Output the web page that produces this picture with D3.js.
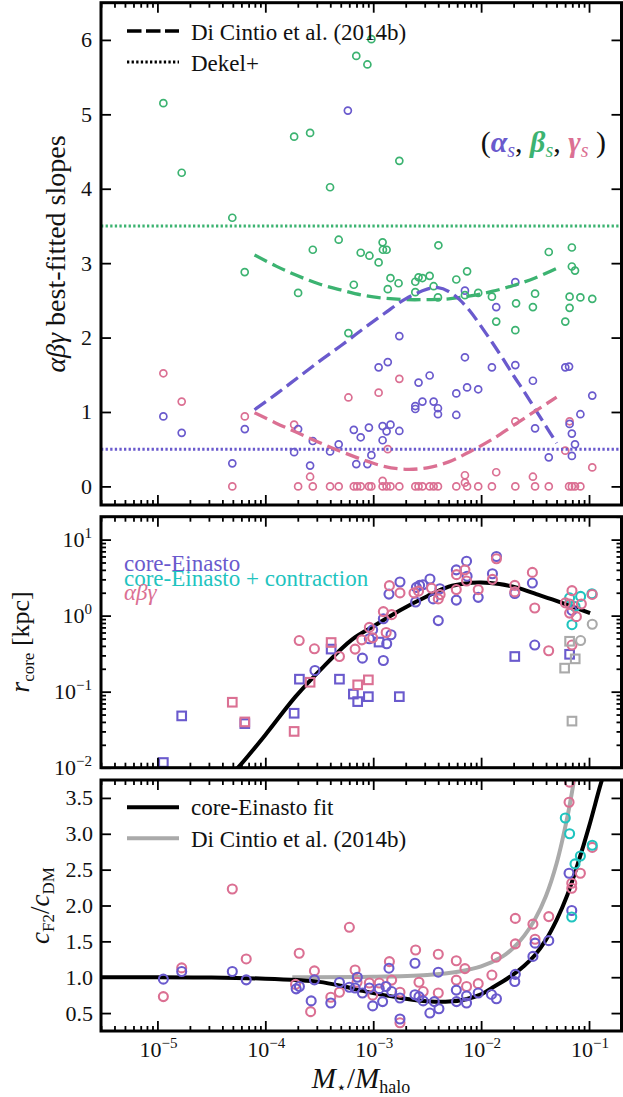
<!DOCTYPE html>
<html>
<head>
<meta charset="utf-8">
<script src="https://cdn.jsdelivr.net/npm/d3@7"></script>
<style>
  body { margin: 0; background: #fff; }
  text { font-family: "Liberation Serif", "Times New Roman", serif; fill: #111; }
</style>
</head>
<body>
<div id="chart"></div>
<script>
// values, x given as log10(M*/Mhalo)

// ---- panel 1: alpha, beta, gamma slopes
var alphaS = [[-4.945,0.94],[-4.775,0.72],[-4.306,0.31],[-4.19,0.77],[-3.733,0.46],[-3.696,0.77],[-3.56,0.61],[-3.585,0.28],
  [-3.40,0.47],[-3.32,0.565],[-3.18,0.76],[-3.116,0.66],[-3.157,0.30],[-3.04,0.79],[-3.054,0.30],[-3.017,0.42],[-2.95,1.60],
  [-2.913,0.81],[-2.876,0.74],[-2.913,0.62],[-2.84,0.83],[-2.865,1.67],[-2.758,0.745],[-2.758,2.02],[-2.61,1.08],[-2.61,1.04],
  [-2.58,1.395],[-2.544,1.14],[-2.477,1.49],[-2.44,1.14],[-2.40,1.05],[-2.40,0.97],[-2.23,1.25],[-2.23,0.96],[-2.15,1.735],
  [-2.15,2.63],[-2.13,1.33],[-2.027,1.305],[-1.90,1.60],[-1.86,2.41],[-1.683,2.745],[-1.683,1.63],[-1.52,1.42],[-1.50,0.78],
  [-1.373,0.39],[-1.22,1.60],[-1.185,1.61],[-1.18,0.84],[-1.159,0.71],[-1.159,0.41],[-1.13,0.565],[-1.08,0.97],[-0.97,1.22],
  [-3.235,5.05]];
var betaS = [[-4.945,5.15],[-4.775,4.215],[-4.306,3.61],[-3.733,4.70],[-3.585,4.75],[-3.40,4.02],[-3.157,5.785],[-3.054,5.67],
  [-3.017,6.01],[-2.758,4.375],[-3.32,3.315],[-3.56,3.18],[-3.116,3.14],[-3.035,3.10],[-2.913,3.28],[-2.91,3.18],[-2.876,3.18],
  [-2.95,3.01],[-2.396,3.24],[-1.373,3.15],[-1.159,3.21],[-4.191,2.88],[-3.696,2.60],[-3.18,2.71],[-3.23,2.06],[-2.84,2.80],
  [-2.865,2.65],[-2.765,2.73],[-2.61,2.75],[-2.58,2.81],[-2.544,2.80],[-2.477,2.83],[-2.61,2.61],[-2.44,2.69],[-2.40,2.54],
  [-2.23,2.78],[-2.13,2.89],[-2.15,2.57],[-2.027,2.60],[-1.90,2.55],[-1.86,2.215],[-1.676,2.46],[-1.683,2.10],[-1.52,2.41],
  [-1.50,2.59],[-1.159,2.955],[-1.13,2.90],[-1.18,2.55],[-1.18,2.40],[-1.22,2.215],[-1.08,2.54],[-0.97,2.52]];
var gammaS = [[-4.945,1.52],[-4.775,1.14],[-4.306,0],[-4.19,0.94],[-3.733,0.83],[-3.696,0],[-3.585,0.13],[-3.56,0],[-3.40,0],
  [-3.32,0],[-3.23,1.195],[-3.18,0],[-3.15,0],[-3.116,0],[-3.04,0],[-3.017,0],[-2.95,1.26],[-2.913,0.075],[-2.913,0],[-2.876,0],
  [-2.84,0],[-2.758,0],[-2.865,0.50],[-2.758,1.445],[-2.61,0],[-2.58,0],[-2.544,0],[-2.477,0],[-2.44,0],[-2.40,0],[-2.23,0],
  [-2.15,0.15],[-2.15,0.05],[-2.13,0],[-2.027,0],[-1.90,0],[-1.86,0.19],[-1.683,0.875],[-1.683,0],[-1.52,0.13],[-1.50,0],
  [-1.373,0],[-1.22,0.48],[-1.18,0.875],[-1.185,0],[-1.159,0],[-1.13,0],[-1.08,0],[-0.97,0.255]];
var alphaDC14 = [[-4.1,1.03],[-3.9,1.24],[-3.7,1.46],[-3.5,1.68],[-3.3,1.89],[-3.1,2.11],[-2.9,2.32],[-2.7,2.52],[-2.5,2.65],
  [-2.4,2.67],[-2.3,2.62],[-2.2,2.51],[-2.1,2.35],[-2.0,2.15],[-1.9,1.94],[-1.8,1.72],[-1.7,1.49],[-1.6,1.27],[-1.5,1.04],
  [-1.4,0.81],[-1.3,0.58]];
var betaDC14 = [[-4.1,3.11],[-3.9,2.96],[-3.7,2.83],[-3.5,2.72],[-3.3,2.64],[-3.1,2.57],[-2.9,2.53],[-2.7,2.51],[-2.5,2.51],
  [-2.3,2.52],[-2.1,2.56],[-1.9,2.62],[-1.7,2.70],[-1.5,2.80],[-1.3,2.93]];
var gammaDC14 = [[-4.1,0.99],[-3.9,0.85],[-3.7,0.72],[-3.5,0.59],[-3.3,0.47],[-3.1,0.36],[-2.9,0.27],[-2.7,0.23],[-2.5,0.25],
  [-2.3,0.33],[-2.1,0.47],[-1.9,0.63],[-1.7,0.82],[-1.5,1.01],[-1.3,1.20]];
var dekelBeta = 3.5, dekelAlpha = 0.5;

// ---- panel 2: core radius [kpc]
var rEinCirc = [[-3.54,0.19],[-3.1,0.276],[-3.036,0.497],[-3.005,0.65],[-2.906,0.257],[-2.875,0.427],[-2.835,0.56],[-2.906,0.91],
  [-2.854,1.92],[-2.752,2.77],[-2.607,1.51],[-2.6,2.35],[-2.57,2.5],[-2.54,2.55],[-2.474,3.03],[-2.444,1.66],[-2.397,0.86],
  [-2.382,2.26],[-2.23,4.0],[-2.23,1.6],[-2.135,5.2],[-2.13,3.3],[-2.027,1.74],[-1.895,3.55],[-1.858,6.0],[-1.688,1.95],
  [-1.525,2.68],[-1.503,0.41],[-1.158,1.17]];
var rEinSq = [[-4.945,0.0117],[-4.775,0.048],[-4.19,0.038],[-3.733,0.052],[-3.684,0.146],[-3.39,0.363],[-3.313,0.146],
  [-3.184,0.093],[-3.144,0.074],[-3.045,0.086],[-2.946,0.449],[-2.758,0.086],[-1.688,0.29],[-1.18,0.31]];
var rAbgCirc = [[-3.686,0.47],[-3.545,0.366],[-3.313,0.29],[-3.168,0.363],[-3.106,0.48],[-3.036,0.70],[-3.005,0.51],[-2.906,1.13],
  [-2.829,1.03],[-2.88,0.6],[-2.85,2.48],[-2.752,1.99],[-2.622,1.99],[-2.58,2.1],[-2.46,2.3],[-2.397,1.66],[-2.38,1.89],
  [-2.228,3.46],[-2.23,2.2],[-2.15,4.0],[-2.135,2.85],[-2.027,2.2],[-1.895,3.0],[-1.858,5.6],[-1.688,2.5],[-1.688,2.05],
  [-1.525,3.7],[-1.503,1.26],[-1.374,0.345],[-1.219,1.47],[-1.158,2.13],[-1.18,1.42],[-1.071,1.42],[-1.18,1.08],[-1.117,0.97],
  [-0.97,1.9],[-1.158,0.41]];
var rAbgSq = [[-4.306,0.0726],[-4.19,0.040],[-3.733,0.030],[-3.585,0.133],[-3.39,0.443],[-3.144,0.123],[-3.045,0.143]];
var rContrCirc = [[-1.18,1.71],[-1.078,1.79],[-1.13,1.32],[-1.158,0.76],[-0.973,1.94]];
var rGrayCirc = [[-0.97,0.77],[-1.078,0.47]];
var rGraySq = [[-1.18,0.46],[-1.128,0.27],[-1.226,0.204],[-1.158,0.041]];
var rcoreFit = [[-4.3,0.0085],[-4.23,0.0109],[-4.0,0.027],[-3.72,0.086],[-3.46,0.214],[-3.2,0.48],[-3.0,0.72],[-2.75,1.18],
  [-2.5,1.8],[-2.3,2.4],[-2.15,2.65],[-2.0,2.72],[-1.83,2.6],[-1.65,2.3],[-1.52,1.99],[-1.27,1.51],[-0.99,1.08]];

// ---- panel 3: concentration ratio
var cEin = [[-4.945,0.973],[-4.775,1.08],[-4.306,1.08],[-4.177,0.963],[-3.714,0.838],[-3.684,0.87],[-3.575,0.67],[-3.545,0.963],
  [-3.393,0.64],[-3.313,0.926],[-3.221,0.86],[-3.147,1.0],[-3.168,0.85],[-3.1,0.78],[-3.036,0.85],[-3.005,0.6],[-2.944,0.84],
  [-2.913,0.66],[-2.882,0.87],[-2.829,0.80],[-2.854,1.126],[-2.752,0.71],[-2.752,0.417],[-2.613,1.195],[-2.613,0.755],
  [-2.576,0.73],[-2.537,0.67],[-2.475,0.5],[-2.434,0.66],[-2.391,0.56],[-2.397,1.07],[-2.23,0.82],[-2.228,0.66],[-2.135,0.64],
  [-2.135,0.74],[-2.027,0.78],[-1.904,0.76],[-1.858,0.7],[-1.683,1.04],[-1.688,0.94],[-1.52,1.29],[-1.50,1.475],[-1.373,1.51],
  [-1.185,2.45],[-1.16,1.93]];
var cAbg = [[-4.945,0.73],[-4.775,1.13],[-4.306,2.23],[-4.177,1.255],[-3.686,1.334],[-3.545,1.088],[-3.72,0.9],[-3.58,0.52],
  [-3.393,0.72],[-3.313,0.79],[-3.221,1.696],[-3.168,1.1],[-3.15,0.93],[-3.036,0.92],[-2.944,0.92],[-3.005,0.75],[-2.85,1.218],
  [-2.829,0.96],[-2.752,0.365],[-2.752,0.79],[-2.607,1.38],[-2.576,0.93],[-2.537,0.8],[-2.397,1.32],[-2.397,0.78],[-2.23,1.23],
  [-2.23,0.96],[-2.15,1.12],[-2.135,0.87],[-2.027,0.91],[-1.9,1.03],[-1.86,1.28],[-1.683,1.82],[-1.683,1.465],[-1.52,1.74],
  [-1.50,1.53],[-1.373,1.845],[-1.185,3.44],[-1.18,3.72],[-0.97,2.81],[-1.08,2.45],[-1.16,2.31],[-1.16,2.24]];
var cContr = [[-1.22,3.22],[-1.18,3.0],[-1.13,2.58],[-1.08,2.69],[-0.97,2.84],[-1.16,1.84]];
var cFit = [[-5.6,1.0],[-5.0,1.0],[-4.5,0.995],[-4.0,0.98],[-3.7,0.96],[-3.5,0.935],[-3.3,0.88],[-3.1,0.81],[-2.9,0.75],
  [-2.7,0.7],[-2.5,0.665],[-2.3,0.66],[-2.15,0.69],[-2.0,0.76],[-1.9,0.85],[-1.8,0.94],[-1.7,1.04],[-1.6,1.16],[-1.5,1.31],
  [-1.4,1.52],[-1.3,1.8],[-1.2,2.15],[-1.1,2.6],[-1.0,3.1],[-0.9,3.65],[-0.86,3.85]];
var cDC14 = [[-3.75,1.0],[-3.0,1.005],[-2.5,1.03],[-2.2,1.08],[-2.0,1.15],[-1.8,1.29],[-1.7,1.41],[-1.6,1.58],[-1.5,1.81],
  [-1.4,2.13],[-1.3,2.59],[-1.2,3.24],[-1.15,3.65],[-1.12,3.95]];

// ---- ticks
var xMajor = [-5, -4, -3, -2, -1];
var y1Ticks = [0, 1, 2, 3, 4, 5, 6];
var y2Ticks = [-2, -1, 0, 1];
var y3Ticks = ["0.5", "1.0", "1.5", "2.0", "2.5", "3.0", "3.5"];

var purple = "#6a5acd", green = "#3cb371", pink = "#db7093", cyan = "#1fc4bf", gray = "#aaaaaa";

var svg = d3.select("#chart").append("svg")
  .attr("width", 623).attr("height", 1097);
svg.append("rect").attr("width", 623).attr("height", 1097).attr("fill", "#fff");

var x = d3.scaleLog().domain([3e-6, 0.2]).range([101, 621.5]);
var px = d => x(Math.pow(10, d[0]));

var y1 = d3.scaleLinear().domain([-0.25, 6.5]).range([505, 2.7]);
var y2 = d3.scaleLog().domain([0.01, 20]).range([767.7, 516.7]);
var y3 = d3.scaleLinear().domain([0.25, 3.75]).range([1031, 780]);

// minor tick positions of the log axes
var xMinor = [];
for (var k = -6; k <= -1; k++) for (var m = 2; m <= 9; m++) {
  var v = m * Math.pow(10, k);
  if (v >= 3e-6 && v <= 0.2) xMinor.push(v);
}
var y2Minor = [];
for (var k = -2; k <= 1; k++) for (var m = 2; m <= 9; m++) {
  var v = m * Math.pow(10, k);
  if (v <= 20) y2Minor.push(v);
}

function panel(yS, id) {
  var r = yS.range();
  var g = svg.append("g");
  g.append("clipPath").attr("id", id).append("rect")
    .attr("x", 101).attr("y", r[1]).attr("width", 520.5).attr("height", r[0] - r[1]);
  var inner = g.append("g").attr("clip-path", `url(#${id})`);
  return {g: g, inner: inner, top: r[1], bot: r[0]};
}

function styleAxis(a) {
  a.select(".domain").remove();
  a.selectAll("line").attr("stroke", "#000").attr("stroke-width", 1.8);
}

function xTicks(p) {
  var majors = xMajor.map(e => Math.pow(10, e));
  [[majors, 10], [xMinor, 5]].forEach(function(t) {
    p.g.append("g").attr("transform", `translate(0,${p.bot})`)
      .call(d3.axisBottom(x).tickValues(t[0]).tickSize(-t[1]).tickFormat(""))
      .call(styleAxis);
    p.g.append("g").attr("transform", `translate(0,${p.top})`)
      .call(d3.axisTop(x).tickValues(t[0]).tickSize(-t[1]).tickFormat(""))
      .call(styleAxis);
  });
}

function yTicks(p, yS, vals, len) {
  p.g.append("g").attr("transform", "translate(101,0)")
    .call(d3.axisLeft(yS).tickValues(vals).tickSize(-len).tickFormat(""))
    .call(styleAxis);
  p.g.append("g").attr("transform", "translate(621.5,0)")
    .call(d3.axisRight(yS).tickValues(vals).tickSize(-len).tickFormat(""))
    .call(styleAxis);
}

function frame(p) {
  p.g.append("rect").attr("x", 101).attr("y", p.top)
    .attr("width", 520.5).attr("height", p.bot - p.top)
    .attr("fill", "none").attr("stroke", "#000").attr("stroke-width", 3);
}

function circles(g, data, yS, color, r, sw) {
  g.append("g").selectAll("circle").data(data).join("circle")
    .attr("cx", px).attr("cy", d => yS(d[1])).attr("r", r)
    .attr("fill", "none").attr("stroke", color).attr("stroke-width", sw);
}

function squares(g, data, yS, color) {
  g.append("g").selectAll("rect").data(data).join("rect")
    .attr("x", d => px(d) - 4.3).attr("y", d => yS(d[1]) - 4.3)
    .attr("width", 8.6).attr("height", 8.6)
    .attr("fill", "none").attr("stroke", color).attr("stroke-width", 2.1);
}

function curve(g, data, yS, color, width, dash) {
  var line = d3.line().x(px).y(d => yS(d[1])).curve(d3.curveCatmullRom);
  g.append("path").datum(data).attr("d", line)
    .attr("fill", "none").attr("stroke", color).attr("stroke-width", width)
    .attr("stroke-dasharray", dash || null);
}

function pow10(g, xp, yp, e, anchor) {
  var t = g.append("text").attr("x", xp).attr("y", yp)
    .attr("text-anchor", anchor).attr("font-size", 22);
  t.append("tspan").text("10");
  t.append("tspan").attr("dy", -9).attr("font-size", 15)
    .text(e < 0 ? "\u2212" + (-e) : String(e));
}

// ================= panel 1
var p1 = panel(y1, "c1");
circles(p1.inner, gammaS, y1, pink, 3.5, 1.7);
circles(p1.inner, alphaS, y1, purple, 3.5, 1.7);
circles(p1.inner, betaS, y1, green, 3.5, 1.7);

[[dekelBeta, green], [dekelAlpha, purple]].forEach(function(d) {
  p1.inner.append("line")
    .attr("x1", x.range()[0]).attr("x2", x.range()[1])
    .attr("y1", y1(d[0])).attr("y2", y1(d[0]))
    .attr("stroke", d[1]).attr("stroke-width", 3).attr("stroke-dasharray", "2.3,2.3");
});
curve(p1.inner, betaDC14, y1, green, 3.3, "14,6");
curve(p1.inner, alphaDC14, y1, purple, 3.3, "14,6");
curve(p1.inner, gammaDC14, y1, pink, 3.3, "14,6");

xTicks(p1);
yTicks(p1, y1, y1Ticks, 10);
y1Ticks.forEach(function(v) {
  p1.g.append("text").attr("x", 92).attr("y", y1(v) + 7.5)
    .attr("text-anchor", "end").attr("font-size", 22).text(v);
});

// legend
var leg1 = p1.g.append("g");
leg1.append("line").attr("x1", 127).attr("x2", 179).attr("y1", 31).attr("y2", 31)
  .attr("stroke", "#000").attr("stroke-width", 3.3).attr("stroke-dasharray", "14.5,4.5");
leg1.append("text").attr("x", 191).attr("y", 40).attr("font-size", 23).text("Di Cintio et al. (2014b)");
leg1.append("line").attr("x1", 127).attr("x2", 179).attr("y1", 62).attr("y2", 62)
  .attr("stroke", "#000").attr("stroke-width", 3).attr("stroke-dasharray", "2.3,2.3");
leg1.append("text").attr("x", 191).attr("y", 70.5).attr("font-size", 23).text("Dekel+");

// (alpha_s, beta_s, gamma_s)
var ttl = p1.g.append("text").attr("x", 606).attr("y", 152)
  .attr("text-anchor", "end").attr("font-size", 30);
ttl.append("tspan").text("(");
[["\u03b1", purple], ["\u03b2", green], ["\u03b3", pink]].forEach(function(s, i) {
  ttl.append("tspan").attr("font-style", "italic").attr("font-weight", "bold")
    .attr("fill", s[1]).text(s[0]);
  ttl.append("tspan").attr("font-style", "italic").attr("font-size", 20)
    .attr("dy", 5).attr("fill", s[1]).text("s");
  ttl.append("tspan").attr("dy", -5).text(i < 2 ? ", " : " )");
});

// y label
var yl1 = p1.g.append("text").attr("transform", "translate(65,254) rotate(-90)")
  .attr("text-anchor", "middle").attr("font-size", 28);
yl1.append("tspan").attr("font-style", "italic").text("\u03b1\u03b2\u03b3");
yl1.append("tspan").text(" best-fitted slopes");
frame(p1);

// ================= panel 2
var p2 = panel(y2, "c2");
curve(p2.inner, rcoreFit, y2, "#000", 4);
squares(p2.inner, rEinSq, y2, purple);
circles(p2.inner, rEinCirc, y2, purple, 4.5, 2.1);
circles(p2.inner, rContrCirc, y2, cyan, 4.5, 2.1);
squares(p2.inner, rAbgSq, y2, pink);
circles(p2.inner, rAbgCirc, y2, pink, 4.5, 2.1);
squares(p2.inner, rGraySq, y2, gray);
circles(p2.inner, rGrayCirc, y2, gray, 4.5, 2.1);

xTicks(p2);
yTicks(p2, y2, y2Ticks.map(e => Math.pow(10, e)), 10);
yTicks(p2, y2, y2Minor, 5);
y2Ticks.forEach(function(e) {
  pow10(p2.g, 92, y2(Math.pow(10, e)) + 7.5, e, "end");
});

var leg2 = [["core-Einasto", purple, 570.5], ["core-Einasto + contraction", cyan, 585.5]];
leg2.forEach(function(l) {
  p2.g.append("text").attr("x", 124).attr("y", l[2]).attr("font-size", 23)
    .style("fill", l[1]).text(l[0]);
});
p2.g.append("text").attr("x", 124).attr("y", 600).attr("font-size", 23)
  .attr("font-style", "italic").style("fill", pink).text("\u03b1\u03b2\u03b3");

var yl2 = p2.g.append("text").attr("transform", "translate(29,642) rotate(-90)")
  .attr("text-anchor", "middle").attr("font-size", 26);
yl2.append("tspan").attr("font-style", "italic").attr("font-size", 28).text("r");
yl2.append("tspan").attr("font-size", 17).attr("dy", 5).text("core");
yl2.append("tspan").attr("dy", -5).text(" [kpc]");
frame(p2);

// ================= panel 3
var p3 = panel(y3, "c3");
curve(p3.inner, cDC14, y3, gray, 4);
curve(p3.inner, cFit, y3, "#000", 4);
circles(p3.inner, cAbg, y3, pink, 4.5, 2.1);
circles(p3.inner, cEin, y3, purple, 4.5, 2.1);
circles(p3.inner, cContr, y3, cyan, 4.5, 2.1);

xTicks(p3);
yTicks(p3, y3, y3Ticks.map(Number), 10);
y3Ticks.forEach(function(s) {
  p3.g.append("text").attr("x", 93).attr("y", y3(+s) + 7.5)
    .attr("text-anchor", "end").attr("font-size", 22).text(s);
});
xMajor.forEach(function(e) {
  pow10(p3.g, x(Math.pow(10, e)) + 1, 1057, e, "middle");
});

var leg3 = [["core-Einasto fit", "#000", 807.3, 815], ["Di Cintio et al. (2014b)", gray, 838.3, 846.5]];
leg3.forEach(function(l) {
  p3.g.append("line").attr("x1", 127).attr("x2", 179).attr("y1", l[2]).attr("y2", l[2])
    .attr("stroke", l[1]).attr("stroke-width", 4);
  p3.g.append("text").attr("x", 191).attr("y", l[3]).attr("font-size", 23).text(l[0]);
});

var yl3 = p3.g.append("text").attr("transform", "translate(49,905.5) rotate(-90)")
  .attr("text-anchor", "middle").attr("font-size", 27);
yl3.append("tspan").attr("font-style", "italic").text("c");
yl3.append("tspan").attr("font-size", 17).attr("dy", 5).text("F2");
yl3.append("tspan").attr("dy", -5).text("/");
yl3.append("tspan").attr("font-style", "italic").text("c");
yl3.append("tspan").attr("font-size", 17).attr("dy", 5).text("DM");
frame(p3);

// x label
var xl = svg.append("text").attr("x", 361).attr("y", 1088)
  .attr("text-anchor", "middle").attr("font-size", 29);
xl.append("tspan").attr("font-style", "italic").text("M");
xl.append("tspan").attr("font-size", 17).attr("dy", 5).text("\u22c6");
xl.append("tspan").attr("dy", -5).text("/");
xl.append("tspan").attr("font-style", "italic").text("M");
xl.append("tspan").attr("font-size", 18).attr("dy", 5).text("halo");
</script>
</body>
</html>
